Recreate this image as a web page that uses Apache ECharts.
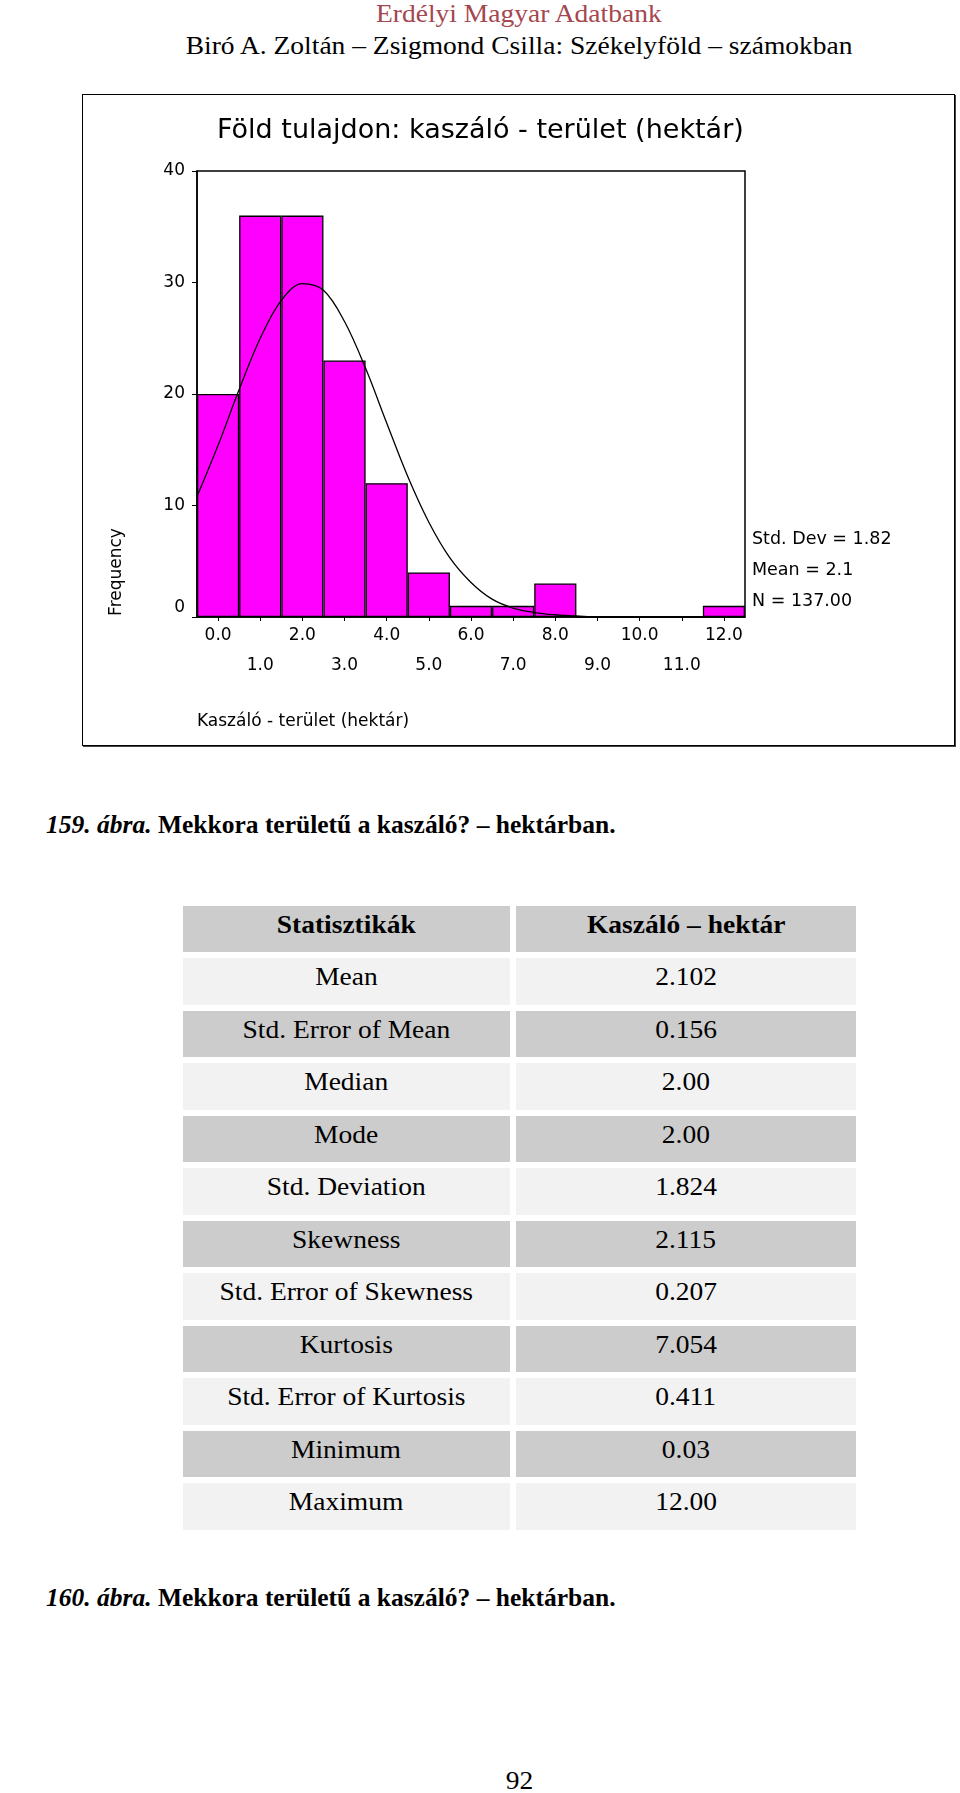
<!DOCTYPE html>
<html>
<head>
<meta charset="utf-8">
<script src="https://cdn.jsdelivr.net/npm/echarts/dist/echarts.min.js"></script>
<style>
html,body{margin:0;padding:0;background:#fff;}
body{width:960px;height:1793px;position:relative;overflow:hidden;font-family:"Liberation Serif","Times New Roman",serif;color:#000;}
.abs{position:absolute;white-space:nowrap;}
.sx{display:inline-block;transform:scaleX(1.1);}
#box{position:absolute;left:82px;top:94px;width:873px;height:652px;border:1px solid #000;box-sizing:border-box;box-shadow:1px 1px 0 #444;}
#chart{position:absolute;left:0;top:80px;width:960px;height:680px;z-index:2;}
.cell{position:absolute;text-align:center;font-size:25px;}
.cap{font-size:25.5px;font-weight:bold;}
</style>
</head>
<body>
<div class="abs" style="left:0;width:1038px;top:-6px;height:40px;line-height:40px;text-align:center;font-size:25px;color:#a4474f;"><span class="sx">Erdélyi Magyar Adatbank</span></div>
<div class="abs" style="left:0;width:1038px;top:26px;height:40px;line-height:40px;text-align:center;font-size:25px;"><span class="sx">Biró A. Zoltán – Zsigmond Csilla: Székelyföld – számokban</span></div>

<div id="box"></div>
<div id="chart"></div>

<div class="abs cap" style="left:46px;top:805px;height:40px;line-height:40px;"><i>159. ábra.</i> Mekkora területű a kaszáló? – hektárban.</div>
<div id="table"></div>
<div class="abs cap" style="left:46px;top:1578px;height:40px;line-height:40px;"><i>160. ábra.</i> Mekkora területű a kaszáló? – hektárban.</div>
<div class="abs" style="left:0;width:1038px;top:1761px;height:40px;line-height:40px;text-align:center;font-size:25px;"><span class="sx">92</span></div>

<script>
// ---- Chart data ----
const binLabels = ['0.0','1.0','2.0','3.0','4.0','5.0','6.0','7.0','8.0','9.0','10.0','11.0','12.0'];
const frequencies = [20, 36, 36, 23, 12, 4, 1, 1, 3, 0, 0, 0, 1];
// normal curve (x in hectares, y in frequency)
const curveX = [-0.5, 0, 0.5, 1, 1.5, 2, 2.5, 3, 3.5, 4, 4.5, 5, 5.5, 6, 6.5, 7, 7.5, 8, 8.5, 9, 9.5, 10, 10.5, 11, 11.5, 12, 12.5];
const curveY = [10.8, 15.4, 20.4, 25.0, 28.4, 29.9, 29.3, 26.5, 22.3, 17.4, 12.6, 8.5, 5.3, 3.1, 1.6, 0.8, 0.4, 0.2, 0.1, 0, 0, 0, 0, 0, 0, 0, 0];
const yTicks = [0, 10, 20, 30, 40];
const chartTitle = 'Föld tulajdon: kaszáló - terület (hektár)';
const xName = 'Kaszáló - terület (hektár)';
const yName = 'Frequency';
const statLines = ['Std. Dev = 1.82', 'Mean = 2.1', 'N = 137.00'];

// ---- Table data ----
const tableHeader = ['Statisztikák', 'Kaszáló – hektár'];
const statNames = ['Mean','Std. Error of Mean','Median','Mode','Std. Deviation','Skewness','Std. Error of Skewness','Kurtosis','Std. Error of Kurtosis','Minimum','Maximum'];
const statValues = ['2.102','0.156','2.00','2.00','1.824','2.115','0.207','7.054','0.411','0.03','12.00'];

// ---- Build table ----
(function(){
  const host = document.getElementById('table');
  const rowTop0 = 905.5, pitch = 52.5, rowH = 46.5;
  const cols = [{left:182.5, width:327.5}, {left:516, width:340}];
  const rows = [tableHeader].concat(statNames.map((n,i)=>[n, statValues[i]]));
  rows.forEach((r, i) => {
    const bg = (i % 2 === 0) ? '#cccccc' : '#f2f2f2';
    r.forEach((txt, j) => {
      const d = document.createElement('div');
      d.className = 'cell';
      d.style.left = cols[j].left + 'px';
      d.style.width = cols[j].width + 'px';
      d.style.top = (rowTop0 + i * pitch) + 'px';
      d.style.height = rowH + 'px';
      d.style.lineHeight = (rowH - 9) + 'px';
      d.style.background = bg;
      if (i === 0) d.style.fontWeight = 'bold';
      const s = document.createElement('span');
      s.className = 'sx';
      s.textContent = txt;
      d.appendChild(s);
      host.appendChild(d);
    });
  });
})();

// ---- Chart ----
const FONT = 'DejaVu Sans';
const chart = echarts.init(document.getElementById('chart'), null, {renderer: 'canvas'});
const option = {
  animation: false,
  backgroundColor: 'transparent',
  grid: {left: 197, top: 91, width: 548, height: 446, show: true, borderColor: '#000', borderWidth: 1.5, backgroundColor: 'transparent'},
  xAxis: [
    {
      type: 'category',
      data: binLabels,
      boundaryGap: true,
      axisLine: {show: true, onZero: false, lineStyle: {color: '#000', width: 1.5}},
      axisTick: {show: true, alignWithLabel: true, length: 4, lineStyle: {color: '#000', width: 1}},
      axisLabel: {
        interval: 0, color: '#000', fontFamily: FONT, fontSize: 17, lineHeight: 30, margin: 4,
        formatter: (v, i) => (i % 2 === 1 ? '\n' + v : v)
      },
      splitLine: {show: false}
    },
    {type: 'value', min: -0.5, max: 12.5, show: false}
  ],
  yAxis: {
    type: 'value', min: yTicks[0], max: yTicks[yTicks.length - 1], interval: 10,
    axisLine: {show: true, onZero: false, lineStyle: {color: '#000', width: 1.5}},
    axisTick: {show: true, length: 5, lineStyle: {color: '#000', width: 1}},
    axisLabel: {
      color: '#000', fontFamily: FONT, fontSize: 17, margin: 12,
      formatter: v => (v === 0 ? '{r|0}' : String(v)),
      rich: {r: {fontFamily: FONT, fontSize: 17, color: '#000', padding: [0, 0, 18, 0]}}
    },
    splitLine: {show: false}
  },
  series: [
    {
      type: 'bar', xAxisIndex: 0, yAxisIndex: 0,
      data: frequencies,
      barCategoryGap: '0%',
      itemStyle: {color: '#ff00ff', borderColor: '#000', borderWidth: 1.3}
    },
    {
      type: 'line', xAxisIndex: 1, yAxisIndex: 0,
      data: curveX.map((x, i) => [x, curveY[i]]),
      smooth: 0.35, symbol: 'none', z: 5,
      lineStyle: {color: '#000', width: 1.3}
    }
  ],
  graphic: [
    {type: 'text', x: 217, y: 51, style: {text: chartTitle, fontFamily: FONT, fontSize: 27, fill: '#000', align: 'left', verticalAlign: 'middle', textAlign: 'left', textVerticalAlign: 'middle'}},
    {type: 'text', x: 117, y: 492, rotation: Math.PI / 2, style: {text: yName, fontFamily: FONT, fontSize: 17, fill: '#000', align: 'center', verticalAlign: 'middle', textAlign: 'center', textVerticalAlign: 'middle'}},
    {type: 'text', x: 752, y: 490.5, style: {text: statLines.join('\n'), lineHeight: 31.25, fontFamily: FONT, fontSize: 17.5, fill: '#000', align: 'left', verticalAlign: 'middle', textAlign: 'left', textVerticalAlign: 'middle'}},
    {type: 'text', x: 197, y: 642, style: {text: xName, fontFamily: FONT, fontSize: 17, fill: '#000', align: 'left', verticalAlign: 'middle', textAlign: 'left', textVerticalAlign: 'middle'}}
  ]
};
chart.setOption(option);
</script>
</body>
</html>
